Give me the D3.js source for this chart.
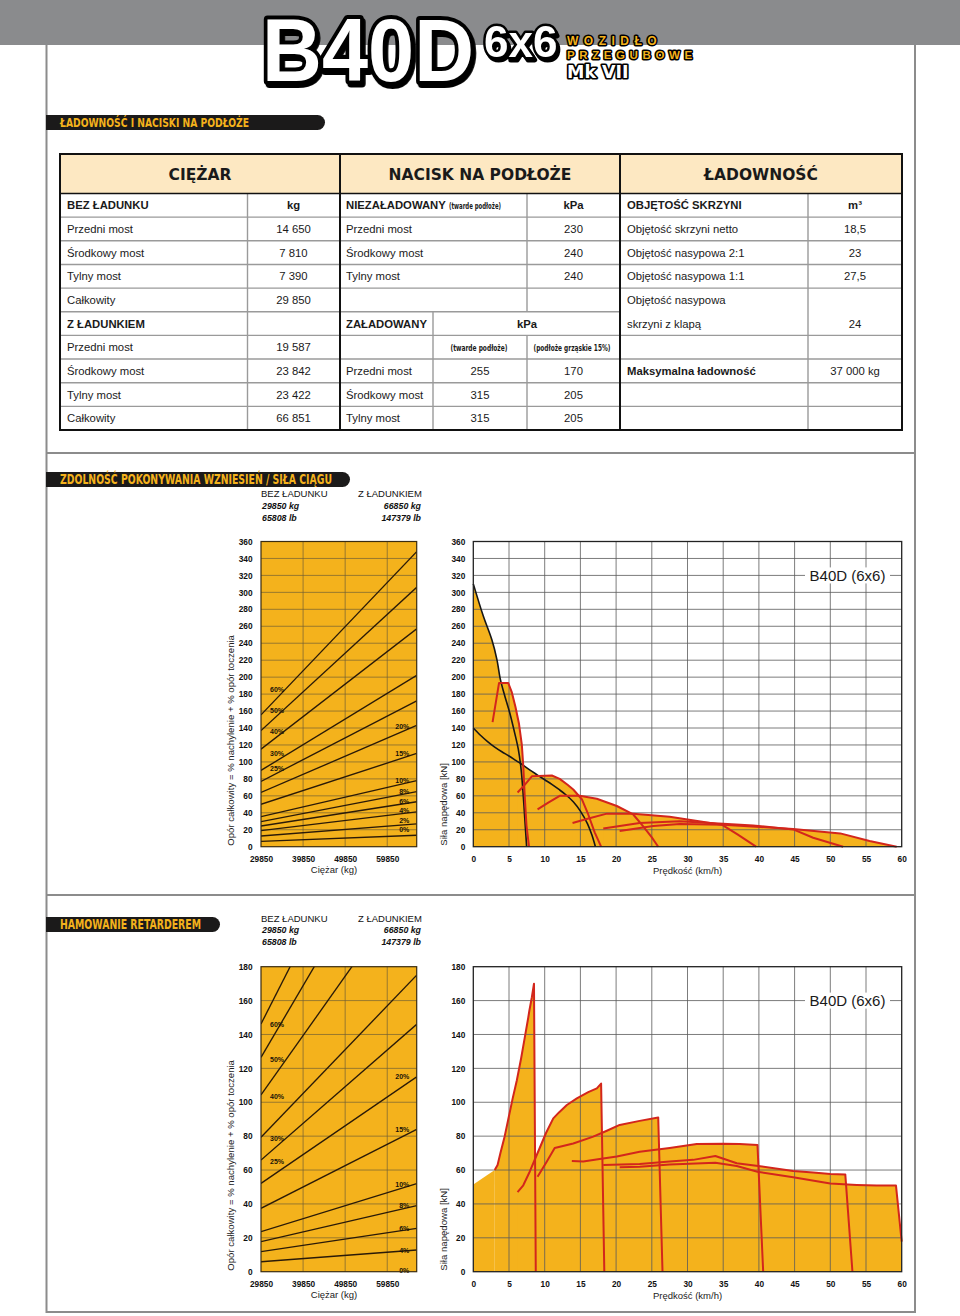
<!DOCTYPE html>
<html><head><meta charset="utf-8">
<script src="https://cdn.jsdelivr.net/npm/d3@7"></script>
<style>
body{margin:0;background:#fff;}
svg{display:block;}
</style></head><body>
<svg id="page" width="960" height="1316"></svg>
<script>
// ---------------- DATA ----------------
const tableHeaders = ["CIĘŻAR", "NACISK NA PODŁOŻE", "ŁADOWNOŚĆ"];
const weightRows = [
  ["BEZ ŁADUNKU", "kg"], ["Przedni most", "14 650"], ["Środkowy most", "7 810"],
  ["Tylny most", "7 390"], ["Całkowity", "29 850"], ["Z ŁADUNKIEM", ""],
  ["Przedni most", "19 587"], ["Środkowy most", "23 842"], ["Tylny most", "23 422"], ["Całkowity", "66 851"]
];
const pressureEmptyRows = [["NIEZAŁADOWANY", "kPa"], ["Przedni most", "230"], ["Środkowy most", "240"], ["Tylny most", "240"]];
const pressureLoadedHead = ["ZAŁADOWANY", "kPa", "(twarde podłoże)", "(podłoże grząskie 15%)"];
const pressureLoadedRows = [["Przedni most", "255", "170"], ["Środkowy most", "315", "205"], ["Tylny most", "315", "205"]];
const capacityRows = [["OBJĘTOŚĆ SKRZYNI", "m³"], ["Objętość skrzyni netto", "18,5"], ["Objętość nasypowa 2:1", "23"], ["Objętość nasypowa 1:1", "27,5"]];
const capacityTailgate = ["Objętość nasypowa", "skrzyni z klapą", "24"];
const capacityMax = ["Maksymalna ładowność", "37 000 kg"];

const weightHeaderLabels = ["BEZ ŁADUNKU", "29850 kg", "65808 lb", "Z ŁADUNKIEM", "66850 kg", "147379 lb"];

// grade charts (x = vehicle weight, kg)
const gradeWeightDomain = [29850, 66850];
const gradeWeightTicks = [29850, 39850, 49850, 59850];
// rimpull grade lines: resistance [kN] at empty / loaded weight
const rimpullGrades = ["60%", "50%", "40%", "30%", "25%", "20%", "15%", "10%", "8%", "6%", "4%", "2%", "0%"];
const rimpullResEmpty = [155.5, 137, 115, 90, 77, 64, 50, 35.4, 29.5, 24.4, 18.9, 12.6, 6.3];
const rimpullResLoaded = [348, 306, 257, 202, 172, 143, 110, 78, 65, 53, 41, 27, 13.5];
const rimpullLabelsLeft = ["60%", "50%", "40%", "30%", "25%"];
const rimpullLabelsLeftKN = [186, 160.6, 135.8, 109.4, 91.7];
const rimpullLabelsRight = ["20%", "15%", "10%", "8%", "6%", "4%", "2%", "0%"];
const rimpullLabelsRightKN = [141.7, 109.4, 77.6, 65, 52.8, 42.5, 30.7, 19.7];
const rimpullTicksKN = [0, 20, 40, 60, 80, 100, 120, 140, 160, 180, 200, 220, 240, 260, 280, 300, 320, 340, 360];

const retarderGrades = ["60%", "50%", "40%", "30%", "25%", "20%", "15%", "10%", "8%", "6%", "4%"];
const retarderResEmpty = [146.2, 126.5, 104.3, 79.3, 65.9, 52.1, 37.4, 23.6, 17.7, 11.8, 5.9];
const retarderResLoaded = [327, 283, 234, 175, 146, 115, 84, 52, 39, 25.6, 12.8];
const retarderLabelsLeft = ["60%", "50%", "40%", "30%", "25%"];
const retarderLabelsLeftKN = [145.6, 125.3, 103.3, 78.5, 65.3];
const retarderLabelsRight = ["20%", "15%", "10%", "8%", "6%", "4%", "0%"];
const retarderLabelsRightKN = [115, 84, 51.7, 38.8, 25.6, 12.8, 1];
const retarderTicksKN = [0, 20, 40, 60, 80, 100, 120, 140, 160, 180];
const labelWeightLeft = 31990, labelWeightRight = 65090;

// speed charts (x = km/h, y = kN)
const speedTicks = [0, 5, 10, 15, 20, 25, 30, 35, 40, 45, 50, 55, 60];
const rimpullBlack1 = [[0,310],[1.4,272],[2.6,244],[3.3,221],[3.8,197],[4.4,178],[5.1,158],[5.8,134],[6.3,115],[6.7,91],[7.0,60],[7.25,28],[7.47,0]];
const rimpullBlack2 = [[0,140],[1,131.5],[2,124],[3,117.5],[4,112],[5,107],[6,101.5],[7,96],[8,90],[9,84.5],[10,79],[11,73.5],[12,67.5],[13,61],[14,53],[15,42],[16,27],[16.6,14],[17.1,0]];
const rimpullGear1 = [[2.7,147],[3.6,193],[4.9,193],[5.4,182],[5.9,165],[6.4,145],[6.8,120],[7.0,95],[7.2,60],[7.45,25],[7.8,0]];
const rimpullGear2 = [[6.2,64],[7.2,73],[8.2,83],[11,84],[12.1,80],[13.2,73],[14,67.5],[15.2,56],[16.1,38],[17,17],[17.9,0]];
const rimpullGear3 = [[9,44],[10.5,52],[12.1,60],[14.9,60],[17.3,56.5],[20.1,48],[22.4,38],[23.8,24],[25,11],[25.9,0]];
const rimpullGear4 = [[13.9,28],[16,33],[18.7,39],[22.4,39],[27.5,35.4],[30,32],[34.8,26],[37,14.5],[39.6,0]];
const rimpullGear5 = [[18.2,21.6],[23.3,28],[28.9,30],[35,27],[39.2,25],[44.8,20.4],[47.6,10.6],[51.8,0]];
const rimpullGear6 = [[20.5,18.5],[25.2,24.4],[28.9,26.7],[35,26],[44.8,21],[51.4,15.7],[55.5,6.7],[59.3,0]];

const retarderBase = [[0,51.5],[3,60]];
const retarderGear1 = [[3,60],[3.4,63],[3.8,70],[4.4,80],[4.9,90],[5.5,102],[6.1,113],[6.7,126],[7.2,138],[7.7,150],[7.85,154],[8.2,162],[8.5,170],[8.75,0]];
const retarderGear2 = [[6.2,47],[7,51],[7.9,59],[9.3,73],[10.2,82],[11.2,90.5],[12,94],[13.1,98.4],[14.5,102.3],[16.1,106],[17.3,108.2],[17.9,111],[18.35,0]];
const retarderGear3 = [[9,56],[10.3,65],[11.4,73],[14,75.7],[16.8,79.7],[18.7,83.2],[20.5,86.6],[23.3,89],[25.9,91],[26.5,0]];
const retarderGear4 = [[13.8,65.3],[15.4,65],[17.7,66.5],[20.1,68],[23.3,70.8],[27.5,73],[31.3,75.3],[35,75.5],[37.3,75.3],[39.8,74.8],[40.6,0]];
const retarderGear5 = [[18.2,63],[23.3,63.5],[27.5,65],[30.8,66],[33.9,68.3],[36.9,64],[39.9,62.4],[44.8,59.4],[47.6,58.6],[50,57.6],[52.1,57.4],[53.1,0]];
const retarderGear6 = [[20.5,61.6],[23.3,62],[27.5,63.3],[33.9,64.3],[36.9,62.4],[39.8,59],[44.8,55.7],[50,52],[53.7,51.2],[56.5,50.8],[59.2,50.8],[60,17.7]];

const sectionTitles = ["ŁADOWNOŚĆ I NACISKI NA PODŁOŻE", "ZDOLNOŚĆ POKONYWANIA WZNIESIEŃ / SIŁA CIĄGU", "HAMOWANIE RETARDEREM"];

// ---------------- DRAWING ----------------
const FONT = '"Liberation Sans", Arial, Helvetica, sans-serif';
const NARROW = '"Liberation Sans Narrow", "DejaVu Sans Condensed", "Liberation Sans", sans-serif';
const FILL = "#f4b21c", RED = "#d3261c";
const svg = d3.select("#page");

const defs = svg.append("defs");
const flt = defs.append("filter").attr("id", "logoShadow").attr("x", "-10%").attr("y", "-10%").attr("width", "130%").attr("height", "140%");
flt.append("feDropShadow").attr("dx", 2).attr("dy", 3).attr("stdDeviation", 0.3).attr("flood-color", "#000").attr("flood-opacity", 1);

svg.append("rect").attr("width", 960).attr("height", 1316).attr("fill", "#fff");
svg.append("rect").attr("width", 960).attr("height", 45).attr("fill", "#8a8b8d");

// frame
const frame = svg.append("g").attr("stroke", "#8c8c8c").attr("stroke-width", 2).attr("fill", "none");
frame.append("path").attr("d", "M46.5,45V1312H915V45");
frame.append("line").attr("x1", 46).attr("x2", 915).attr("y1", 453).attr("y2", 453);
frame.append("line").attr("x1", 46).attr("x2", 915).attr("y1", 895).attr("y2", 895);

// logo
function outlined(txt, x, y, size, sx, fill, sw, family, shadow, spacing) {
  const t = svg.append("text").attr("transform", `translate(${x},${y}) scale(${sx},1)`)
    .attr("font-family", family).attr("font-weight", "bold").attr("font-size", size)
    .attr("fill", fill).attr("stroke", "#000").attr("stroke-width", sw / sx).attr("stroke-linejoin", "round")
    .attr("paint-order", "stroke").text(txt);
  if (spacing) t.attr("letter-spacing", spacing);
  if (shadow) t.attr("filter", "url(#logoShadow)");
}
outlined("B40D", 262, 81, 89, 0.932, "#fff", 7.5, FONT, true);
outlined("6x6", 484, 57, 44, 1, "#fff", 5, FONT, true);
outlined("WOZIDŁO", 567, 45, 12, 1, FILL, 3, FONT, false, 5.5);
outlined("PRZEGUBOWE", 567, 59, 11.5, 1, FILL, 3, FONT, false, 4.6);
outlined("Mk VII", 567, 78, 18, 1.08, "#fff", 3.5, NARROW, false);

// section pills
function pill(x1, y0, h, label, size, len) {
  svg.append("path")
    .attr("d", `M46,${y0}H${x1 - h / 2}A${h / 2},${h / 2} 0 0 1 ${x1 - h / 2},${y0 + h}H46Z`)
    .attr("fill", "#1b1a1a");
  svg.append("text").attr("x", 60).attr("y", y0 + h / 2 + size * 0.36)
    .attr("font-family", NARROW).attr("font-weight", "bold").attr("font-size", size)
    .attr("textLength", len).attr("lengthAdjust", "spacingAndGlyphs")
    .attr("fill", FILL).text(label);
}
pill(325, 115, 15, sectionTitles[0], 12.5, 189);
pill(350, 472, 15, sectionTitles[1], 13.5, 272);
pill(220, 917, 15, sectionTitles[2], 13.5, 141);

// ---------- table ----------
const T = { x0: 60, x1: 902, y0: 154, yh: 193.5, y1: 430, c1: 340, c2: 620 };
const rowH = (T.y1 - T.yh) / 10;
const rowTop = i => T.yh + i * rowH;
const rowBase = i => T.yh + i * rowH + rowH / 2 + 4;
const tb = svg.append("g").attr("font-family", FONT).attr("font-size", 11.3).attr("fill", "#1a1a1a");
tb.append("rect").attr("x", T.x0).attr("y", T.y0).attr("width", T.x1 - T.x0).attr("height", T.yh - T.y0).attr("fill", "#fde8c2");
// gray row lines
const gl = tb.append("g").attr("stroke", "#9a9a9a").attr("stroke-width", 1.4);
for (let i = 1; i < 10; i++) {
  gl.append("line").attr("x1", T.x0).attr("x2", T.c2).attr("y1", rowTop(i)).attr("y2", rowTop(i));
  if (i !== 5) gl.append("line").attr("x1", T.c2).attr("x2", T.x1).attr("y1", rowTop(i)).attr("y2", rowTop(i));
}
gl.append("line").attr("x1", 247.5).attr("x2", 247.5).attr("y1", T.yh).attr("y2", T.y1);
gl.append("line").attr("x1", 527).attr("x2", 527).attr("y1", T.yh).attr("y2", rowTop(5));
gl.append("line").attr("x1", 527).attr("x2", 527).attr("y1", rowTop(6)).attr("y2", T.y1);
gl.append("line").attr("x1", 433).attr("x2", 433).attr("y1", rowTop(5)).attr("y2", T.y1);
gl.append("line").attr("x1", 808).attr("x2", 808).attr("y1", T.yh).attr("y2", T.y1);
// black structure
const bl = tb.append("g").attr("stroke", "#111").attr("fill", "none");
bl.append("line").attr("x1", T.x0).attr("x2", T.x1).attr("y1", T.yh).attr("y2", T.yh).attr("stroke-width", 1.6);
bl.append("line").attr("x1", T.c1).attr("x2", T.c1).attr("y1", T.y0).attr("y2", T.y1).attr("stroke-width", 2);
bl.append("line").attr("x1", T.c2).attr("x2", T.c2).attr("y1", T.y0).attr("y2", T.y1).attr("stroke-width", 2);
bl.append("rect").attr("x", T.x0).attr("y", T.y0).attr("width", T.x1 - T.x0).attr("height", T.y1 - T.y0).attr("stroke-width", 2);
// header
tb.selectAll(".th").data(tableHeaders).join("text")
  .attr("x", (d, i) => [200, 480, 761][i]).attr("y", 179.5).attr("text-anchor", "middle")
  .attr("font-family", '"DejaVu Sans", sans-serif').attr("font-weight", "bold").attr("font-size", 15.5).text(d => d);
function cell(txt, x, i, anchor, bold) {
  return tb.append("text").attr("x", x).attr("y", rowBase(i)).attr("text-anchor", anchor || "start")
    .attr("font-weight", bold ? "bold" : null).text(txt);
}
function narrowCell(txt, x, i, anchor, len) {
  return tb.append("text").attr("x", x).attr("y", rowBase(i) - 0.5).attr("text-anchor", anchor)
    .attr("font-family", NARROW).attr("font-weight", "bold").attr("font-size", 9.2)
    .attr("textLength", len).attr("lengthAdjust", "spacingAndGlyphs").text(txt);
}
weightRows.forEach((r, i) => {
  const b = i === 0 || i === 5;
  cell(r[0], 67, i, "start", b);
  cell(r[1], 293.5, i, "middle", b);
});
pressureEmptyRows.forEach((r, i) => {
  cell(r[0], 346, i, "start", i === 0);
  cell(r[1], 573.5, i, "middle", i === 0);
});
narrowCell(pressureLoadedHead[2], 449, 0, "start", 52);
cell(pressureLoadedHead[0], 346, 5, "start", true);
cell(pressureLoadedHead[1], 527, 5, "middle", true);
narrowCell(pressureLoadedHead[2], 479, 6, "middle", 57);
narrowCell(pressureLoadedHead[3], 572, 6, "middle", 77);
pressureLoadedRows.forEach((r, i) => {
  cell(r[0], 346, i + 7, "start");
  cell(r[1], 480, i + 7, "middle");
  cell(r[2], 573.5, i + 7, "middle");
});
capacityRows.forEach((r, i) => {
  cell(r[0], 627, i, "start", i === 0);
  cell(r[1], 855, i, "middle", i === 0);
});
cell(capacityTailgate[0], 627, 4, "start");
cell(capacityTailgate[1], 627, 5, "start");
cell(capacityTailgate[2], 855, 5, "middle");
cell(capacityMax[0], 627, 7, "start", true);
cell(capacityMax[1], 855, 7, "middle");

// ---------- chart helpers ----------
function styleAxis(sel) {
  sel.select(".domain").remove();
  sel.attr("font-family", FONT).attr("font-size", 8.3).attr("font-weight", "bold");
  sel.selectAll("text").attr("fill", "#111");
}
function weightHeader(y0) {
  const g = svg.append("g").attr("font-family", FONT).attr("fill", "#111");
  g.append("text").attr("x", 261).attr("y", y0 + 3.3).attr("font-size", 9.5).text(weightHeaderLabels[0]);
  g.append("text").attr("x", 262).attr("y", y0 + 14.5).attr("font-size", 8.8).attr("font-weight", "bold").attr("font-style", "italic").text(weightHeaderLabels[1]);
  g.append("text").attr("x", 262).attr("y", y0 + 26.5).attr("font-size", 8.8).attr("font-weight", "bold").attr("font-style", "italic").text(weightHeaderLabels[2]);
  g.append("text").attr("x", 358).attr("y", y0 + 3.3).attr("font-size", 9.5).text(weightHeaderLabels[3]);
  g.append("text").attr("x", 421).attr("y", y0 + 14.5).attr("text-anchor", "end").attr("font-size", 8.8).attr("font-weight", "bold").attr("font-style", "italic").text(weightHeaderLabels[4]);
  g.append("text").attr("x", 421).attr("y", y0 + 26.5).attr("text-anchor", "end").attr("font-size", 8.8).attr("font-weight", "bold").attr("font-style", "italic").text(weightHeaderLabels[5]);
}

let clipN = 0;
function gradeChart(cfg) {
  const g = svg.append("g");
  const x = d3.scaleLinear().domain(gradeWeightDomain).range([261, 416.7]);
  const y = d3.scaleLinear().domain([0, cfg.ticks[cfg.ticks.length - 1]]).range([cfg.bottom, cfg.top]);
  const [xl, xr] = x.range();
  g.append("rect").attr("x", xl).attr("y", cfg.top).attr("width", xr - xl).attr("height", cfg.bottom - cfg.top).attr("fill", FILL);
  const grid = g.append("g").attr("stroke", "#6e5e36").attr("stroke-width", 0.8).attr("stroke-opacity", 0.85);
  grid.selectAll(".h").data(cfg.ticks.slice(1, -1)).join("line")
    .attr("x1", xl).attr("x2", xr).attr("y1", d => y(d)).attr("y2", d => y(d));
  grid.selectAll(".v").data(gradeWeightTicks.slice(1)).join("line")
    .attr("x1", d => x(d)).attr("x2", d => x(d)).attr("y1", cfg.top).attr("y2", cfg.bottom);
  const id = "clip" + (clipN++);
  g.append("clipPath").attr("id", id).append("rect").attr("x", xl).attr("y", cfg.top).attr("width", xr - xl).attr("height", cfg.bottom - cfg.top);
  const lines = cfg.empty.map((v, i) => [[gradeWeightDomain[0], v], [gradeWeightDomain[1], cfg.loaded[i]]]);
  const ln = d3.line().x(d => x(d[0])).y(d => y(d[1]));
  g.append("g").attr("clip-path", `url(#${id})`).selectAll("path").data(lines).join("path")
    .attr("d", ln).attr("fill", "none").attr("stroke", "#2a1a08").attr("stroke-width", 1.35);
  const lab = g.append("g").attr("font-family", FONT).attr("font-size", 7).attr("font-weight", "bold").attr("fill", "#1a1208");
  lab.selectAll(".l").data(cfg.labelsLeft).join("text")
    .attr("x", x(labelWeightLeft)).attr("y", (d, i) => y(cfg.labelsLeftKN[i]) + 2.5).text(d => d);
  lab.selectAll(".r").data(cfg.labelsRight).join("text").attr("text-anchor", "end")
    .attr("x", x(labelWeightRight)).attr("y", (d, i) => y(cfg.labelsRightKN[i]) + 2.5).text(d => d);
  g.append("rect").attr("x", xl).attr("y", cfg.top).attr("width", xr - xl).attr("height", cfg.bottom - cfg.top)
    .attr("fill", "none").attr("stroke", "#3a2c10").attr("stroke-width", 1.2);
  g.append("g").attr("transform", `translate(${xl},0)`).call(d3.axisLeft(y).tickValues(cfg.ticks).tickSize(0).tickPadding(8.5)).call(styleAxis);
  g.append("g").attr("transform", `translate(0,${cfg.bottom})`).call(d3.axisBottom(x).tickValues(gradeWeightTicks).tickSize(0).tickPadding(9).tickFormat(d3.format("d"))).call(styleAxis);
  g.append("text").attr("x", 334).attr("y", cfg.bottom + 26).attr("text-anchor", "middle")
    .attr("font-family", FONT).attr("font-size", 9.5).attr("fill", "#222").text("Ciężar (kg)");
  g.append("text").attr("transform", `translate(234,${cfg.bottom - 1}) rotate(-90)`)
    .attr("font-family", FONT).attr("font-size", 9.6).attr("fill", "#222")
    .text("Opór całkowity = % nachylenie + % opór toczenia");
}

function speedChart(cfg) {
  const g = svg.append("g");
  const x = d3.scaleLinear().domain([0, 60]).range([473.3, 901.7]);
  const y = d3.scaleLinear().domain([0, cfg.ticks[cfg.ticks.length - 1]]).range([cfg.bottom, cfg.top]);
  const [xl, xr] = x.range();
  g.append("rect").attr("x", xl).attr("y", cfg.top).attr("width", xr - xl).attr("height", cfg.bottom - cfg.top).attr("fill", "#fff");
  cfg.series.forEach(s => {
    const area = d3.area().x(d => x(d[0])).y0(y(0)).y1(d => y(d[1])).curve(s.smooth ? d3.curveCatmullRom : d3.curveLinear);
    g.append("path").datum(s.pts).attr("d", area).attr("fill", FILL);
  });
  const grid = g.append("g").attr("stroke", "#5a5a5a").attr("stroke-width", 0.8);
  grid.selectAll(".v").data(speedTicks.slice(1, -1)).join("line")
    .attr("x1", d => x(d)).attr("x2", d => x(d)).attr("y1", cfg.top).attr("y2", cfg.bottom);
  grid.selectAll(".h").data(cfg.ticks.slice(1, -1)).join("line")
    .attr("x1", xl).attr("x2", xr).attr("y1", d => y(d)).attr("y2", d => y(d));
  cfg.series.filter(s => s.color).forEach(s => {
    const ln = d3.line().x(d => x(d[0])).y(d => y(d[1])).curve(s.smooth ? d3.curveCatmullRom : d3.curveLinear);
    g.append("path").datum(s.pts).attr("d", ln).attr("fill", "none").attr("stroke", s.color)
      .attr("stroke-width", s.color === RED ? 2 : 1.6).attr("stroke-linejoin", "round");
  });
  const ly = y(cfg.labelKN);
  g.append("rect").attr("x", 805).attr("y", ly - 8).attr("width", 85).attr("height", 16).attr("fill", "#fff");
  g.append("text").attr("x", 847.5).attr("y", ly + 5.3).attr("text-anchor", "middle")
    .attr("font-family", FONT).attr("font-size", 15).attr("fill", "#1a1a1a").text("B40D (6x6)");
  g.append("rect").attr("x", xl).attr("y", cfg.top).attr("width", xr - xl).attr("height", cfg.bottom - cfg.top)
    .attr("fill", "none").attr("stroke", "#222").attr("stroke-width", 1.3);
  g.append("g").attr("transform", `translate(${xl},0)`).call(d3.axisLeft(y).tickValues(cfg.ticks).tickSize(0).tickPadding(8)).call(styleAxis);
  g.append("g").attr("transform", `translate(0,${cfg.bottom})`).call(d3.axisBottom(x).tickValues(speedTicks).tickSize(0).tickPadding(9)).call(styleAxis);
  g.append("text").attr("x", 687.5).attr("y", cfg.bottom + 27).attr("text-anchor", "middle")
    .attr("font-family", FONT).attr("font-size", 9.5).attr("fill", "#222").text("Prędkość (km/h)");
  g.append("text").attr("transform", `translate(447,${cfg.bottom - 1}) rotate(-90)`)
    .attr("font-family", FONT).attr("font-size", 9.6).attr("fill", "#222").text("Siła napędowa [kN]");
}

// ---------- section 2: rimpull ----------
weightHeader(494);
gradeChart({
  top: 541.5, bottom: 846.7, ticks: rimpullTicksKN,
  empty: rimpullResEmpty, loaded: rimpullResLoaded,
  labelsLeft: rimpullLabelsLeft, labelsLeftKN: rimpullLabelsLeftKN,
  labelsRight: rimpullLabelsRight, labelsRightKN: rimpullLabelsRightKN
});
speedChart({
  top: 541.5, bottom: 846.7, ticks: rimpullTicksKN, labelKN: 320,
  series: [
    { pts: rimpullBlack1, color: "#161616", smooth: true },
    { pts: rimpullBlack2, color: "#161616", smooth: true },
    { pts: rimpullGear1, color: RED }, { pts: rimpullGear2, color: RED },
    { pts: rimpullGear3, color: RED }, { pts: rimpullGear4, color: RED },
    { pts: rimpullGear5, color: RED }, { pts: rimpullGear6, color: RED }
  ]
});

// ---------- section 3: retarder ----------
weightHeader(918.5);
gradeChart({
  top: 966.7, bottom: 1271.7, ticks: retarderTicksKN,
  empty: retarderResEmpty, loaded: retarderResLoaded,
  labelsLeft: retarderLabelsLeft, labelsLeftKN: retarderLabelsLeftKN,
  labelsRight: retarderLabelsRight, labelsRightKN: retarderLabelsRightKN
});
speedChart({
  top: 966.7, bottom: 1271.7, ticks: retarderTicksKN, labelKN: 160,
  series: [
    { pts: retarderBase, color: null },
    { pts: retarderGear1, color: RED }, { pts: retarderGear2, color: RED },
    { pts: retarderGear3, color: RED }, { pts: retarderGear4, color: RED },
    { pts: retarderGear5, color: RED }, { pts: retarderGear6, color: RED }
  ]
});
</script></body></html>
